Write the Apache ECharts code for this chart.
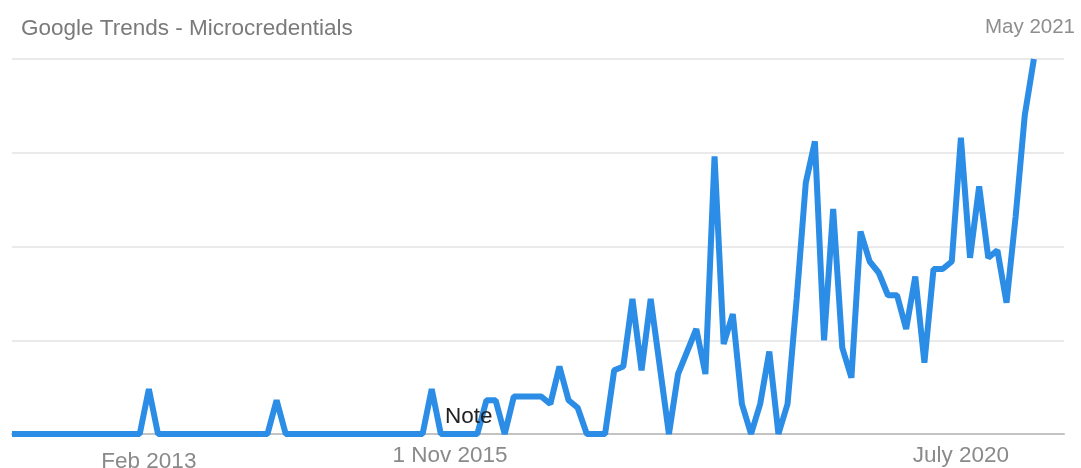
<!DOCTYPE html>
<html>
<head>
<meta charset="utf-8">
<script src="https://cdn.jsdelivr.net/npm/echarts@6/dist/echarts.min.js"></script>
<style>
html,body{margin:0;padding:0;background:#fff;}
#c{width:1081px;height:468px;}
</style>
</head>
<body>
<div id="c"></div>
<script>
// Google Trends interest (0-100), one value per period, oldest first
const values = [
  0,0,0,0,0,0,0,0,0,0,0,0,0,0,0,
  12,
  0,0,0,0,0,0,0,0,0,0,0,0,0,
  9,
  0,0,0,0,0,0,0,0,0,0,0,0,0,0,0,0,
  12,
  0,0,0,0,0,
  9,9,0,10,10,10,10,8,18,9,7,0,0,0,
  17,18,36,17,36,18,0,16,22,28,16,74,24,32,8,0,8,22,0,8,
  36,67,78,25,60,23,15,54,46,43,37,37,28,42,19,44,44,46,
  79,47,66,47,49,35,58,85,100
];
const tickIndex = [15, 48, 104];
const tickLabels = ['Feb 2013', '1 Nov 2015', 'July 2020'];
const titleText = 'Google Trends - Microcredentials';
const endLabel = 'May 2021';
const noteText = 'Note';
const yTicks = [0, 25, 50, 75, 100];

const FONT = "'Liberation Sans', Arial, Helvetica, sans-serif";
const chart = echarts.init(document.getElementById('c'), null, {renderer: 'canvas'});
chart.setOption({
  animation: false,
  backgroundColor: '#ffffff',
  title: [
    {text: titleText, left: 16, top: 12,
     textStyle: {fontFamily: FONT, fontSize: 22.5, fontWeight: 'normal', color: '#7a7a7a'}},
    {text: endLabel, right: 1, top: 12,
     textStyle: {fontFamily: FONT, fontSize: 20.5, fontWeight: 'normal', color: '#8e8e8e'}}
  ],
  grid: {left: 12, right: 17, top: 59, bottom: 34, containLabel: false, outerBoundsMode: 'none'},
  xAxis: {
    type: 'value', min: 0, max: 115.3,
    axisLine: {show: true, lineStyle: {color: '#c3c3c3', width: 2}},
    axisTick: {show: false},
    splitLine: {show: false},
    axisLabel: {
      customValues: tickIndex,
      margin: 10,
      formatter: function (v) {
        const k = tickIndex.indexOf(v);
        const t = k >= 0 ? tickLabels[k] : '';
        return k === 0 ? '{low|' + t + '}' : '{hi|' + t + '}';
      },
      rich: {
        low: {fontFamily: FONT, fontSize: 22.5, color: '#8a8a8a', padding: [6, 0, 0, 0]},
        hi: {fontFamily: FONT, fontSize: 22.5, color: '#8a8a8a'}
      }
    }
  },
  yAxis: {
    type: 'value', min: yTicks[0], max: yTicks[yTicks.length - 1], interval: 25,
    axisLine: {show: false}, axisTick: {show: false}, axisLabel: {show: false},
    splitLine: {show: true, lineStyle: {color: '#e3e3e3', width: 1.5}}
  },
  graphic: [
    {type: 'text', left: 445, top: 405, z: 100,
     style: {text: noteText, fontFamily: FONT, fontSize: 22.5, fill: '#222222'}}
  ],
  series: [{
    type: 'line',
    data: values.map((v, i) => [i, v]),
    symbol: 'none',
    lineStyle: {color: '#2b8de6', width: 6, join: 'bevel'},
    z: 5
  }]
});
</script>
</body>
</html>
